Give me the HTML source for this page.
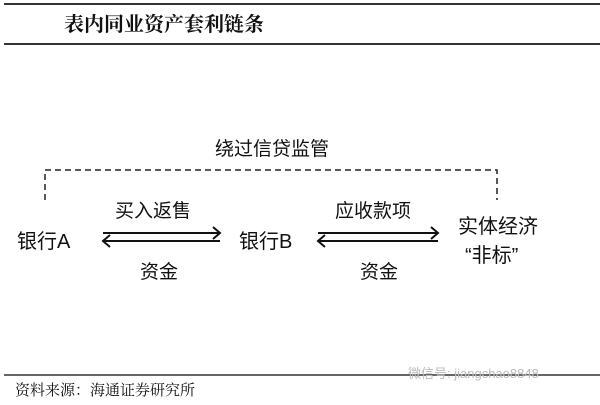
<!DOCTYPE html>
<html><head><meta charset="utf-8"><style>
body{margin:0;width:600px;height:405px;background:#fff;overflow:hidden}
</style></head><body>
<svg width="600" height="405" xmlns="http://www.w3.org/2000/svg" style="position:absolute;left:0;top:0">
<line x1="4" y1="4" x2="600" y2="4" stroke="#333" stroke-width="2"/>
<line x1="4" y1="44" x2="600" y2="44" stroke="#333" stroke-width="2"/>
<text x="64" y="31" font-family="'Noto Serif CJK SC',serif" font-weight="bold" font-size="20" fill="#111">表内同业资产套利链条</text>
<text x="215" y="155" font-family="'Noto Sans CJK SC',sans-serif" font-size="19" fill="#111">绕过信贷监管</text>
<polyline points="45,200 45,170 497,170 497,200" fill="none" stroke="#222" stroke-width="1.5" stroke-dasharray="6,4"/>
<g font-family="'Liberation Sans','Noto Sans CJK SC',sans-serif" font-size="20" fill="#111">
<text x="17" y="248">银行A</text>
<text x="239" y="248">银行B</text>
<text x="458" y="233">实体经济</text>
<text x="465" y="262">“非标”</text>
</g>
<g font-family="'Noto Sans CJK SC',sans-serif" font-size="19" fill="#111">
<text x="115" y="217">买入返售</text>
<text x="140" y="278">资金</text>
<text x="335" y="217">应收款项</text>
<text x="360" y="278">资金</text>
</g>
<g stroke="#111" stroke-width="2" fill="none">
<line x1="103" y1="233" x2="220" y2="233"/><polyline points="213,227 220,233 213,239"/>
<line x1="103" y1="241" x2="220" y2="241"/><polyline points="110,235 103,241 110,247"/>
<line x1="318" y1="233" x2="438" y2="233"/><polyline points="431,227 438,233 431,239"/>
<line x1="318" y1="241" x2="438" y2="241"/><polyline points="325,235 318,241 325,247"/>
</g>
<line x1="4" y1="375" x2="600" y2="375" stroke="#333" stroke-width="1.5"/>
<text x="15" y="395" font-family="'Noto Serif CJK SC',serif" font-size="15" fill="#111">资料来源：海通证券研究所</text>
<text x="408" y="378" font-family="'Liberation Sans','Noto Sans CJK SC',sans-serif" font-size="13" fill="#bbb">微信号: jiangchao8848</text>
</svg>
</body></html>
